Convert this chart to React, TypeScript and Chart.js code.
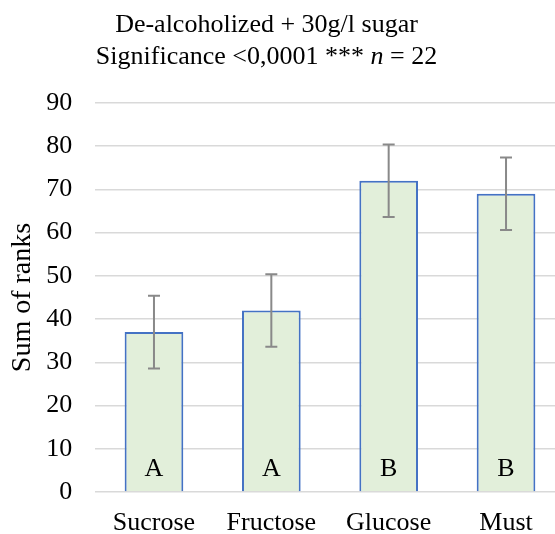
import React, { useEffect, useRef } from "react";
import { Chart, registerables } from "chart.js";

Chart.register(...registerables);

const categories = ["Sucrose", "Fructose", "Glucose", "Must"];
const sumOfRanks = [37, 42, 72, 69];
const errorMargin = [8.4, 8.4, 8.4, 8.4];
const groupLetters = ["A", "A", "B", "B"];
const titleLine1 = "De-alcoholized + 30g/l sugar";
const titleLine2Parts = [
  { text: "Significance <0,0001 *** ", italic: false },
  { text: "n", italic: true },
  { text: " = 22", italic: false },
];
const yAxisTitle = "Sum of ranks";
const yMin = 0;
const yMax = 90;
const yStep = 10;

const FONT_FAMILY = "'Liberation Serif', 'Times New Roman', serif";
const FONT_SIZE = 26;

const extrasPlugin = {
  id: "extras",
  afterDatasetsDraw(chart: any) {
    const ctx = chart.ctx;
    const meta = chart.getDatasetMeta(0);
    const yScale = chart.scales.y;
    ctx.save();
    // error bars
    ctx.strokeStyle = "#898989";
    ctx.lineWidth = 2;
    meta.data.forEach((bar: any, i: number) => {
      const v = sumOfRanks[i];
      const e = errorMargin[i];
      const yTop = yScale.getPixelForValue(v + e);
      const yBot = yScale.getPixelForValue(v - e);
      const x = bar.x;
      const cap = 6;
      ctx.beginPath();
      ctx.moveTo(x, yTop);
      ctx.lineTo(x, yBot);
      ctx.moveTo(x - cap, yTop);
      ctx.lineTo(x + cap, yTop);
      ctx.moveTo(x - cap, yBot);
      ctx.lineTo(x + cap, yBot);
      ctx.stroke();
    });
    // letters
    ctx.fillStyle = "#000000";
    ctx.font = `${FONT_SIZE}px ${FONT_FAMILY}`;
    ctx.textAlign = "center";
    ctx.textBaseline = "alphabetic";
    const base = yScale.getPixelForValue(0);
    meta.data.forEach((bar: any, i: number) => {
      ctx.fillText(groupLetters[i], bar.x, base - 16);
    });
    ctx.restore();
  },
  afterDraw(chart: any) {
    const ctx = chart.ctx;
    ctx.save();
    ctx.fillStyle = "#000000";
    ctx.textBaseline = "alphabetic";
    const cx = 266.5;
    ctx.font = `${FONT_SIZE}px ${FONT_FAMILY}`;
    ctx.textAlign = "center";
    ctx.fillText(titleLine1, cx, 32);
    // second line with italic part
    const widths = titleLine2Parts.map((p) => {
      ctx.font = `${p.italic ? "italic " : ""}${FONT_SIZE}px ${FONT_FAMILY}`;
      return ctx.measureText(p.text).width;
    });
    const total = widths.reduce((a, b) => a + b, 0);
    let x = cx - total / 2;
    ctx.textAlign = "left";
    titleLine2Parts.forEach((p, i) => {
      ctx.font = `${p.italic ? "italic " : ""}${FONT_SIZE}px ${FONT_FAMILY}`;
      ctx.fillText(p.text, x, 64);
      x += widths[i];
    });
    ctx.restore();
  },
};

export default function App() {
  const canvasRef = useRef<HTMLCanvasElement | null>(null);

  useEffect(() => {
    const canvas = canvasRef.current;
    if (!canvas) return;
    const chart = new Chart(canvas, {
      type: "bar",
      data: {
        labels: categories,
        datasets: [
          {
            data: sumOfRanks,
            backgroundColor: "#E2EFDA",
            borderColor: "#4472C4",
            borderWidth: 2,
            barPercentage: 0.5,
            categoryPercentage: 1,
          },
        ],
      },
      options: {
        animation: false,
        responsive: false,
        maintainAspectRatio: false,
        layout: { padding: { top: 103, left: 0, right: 5.3, bottom: 0 } },
        plugins: {
          legend: { display: false },
          tooltip: { enabled: false },
          title: { display: false },
        },
        scales: {
          x: {
            grid: { display: false },
            border: { display: false },
            ticks: {
              color: "#000000",
              font: { family: FONT_FAMILY, size: FONT_SIZE },
              padding: 8,
              maxRotation: 0,
            },
            afterFit(scale: any) {
              scale.height = 42;
            },
          },
          y: {
            min: yMin,
            max: yMax,
            grid: { color: "#D9D9D9", lineWidth: 1.5, drawTicks: false },
            border: { display: false },
            ticks: {
              stepSize: yStep,
              color: "#000000",
              font: { family: FONT_FAMILY, size: FONT_SIZE },
              padding: 23,
            },
            title: {
              display: true,
              text: yAxisTitle,
              color: "#000000",
              font: { family: FONT_FAMILY, size: 28 },
              padding: { top: 6, bottom: 0 },
            },
            afterFit(scale: any) {
              scale.width = 95.3;
            },
          },
        },
      },
      plugins: [extrasPlugin],
    });
    return () => chart.destroy();
  }, []);

  return (
    <div
      style={{
        position: "fixed",
        left: 0,
        top: 0,
        width: 555,
        height: 534,
        overflow: "hidden",
        background: "#ffffff",
      }}
    >
      <canvas ref={canvasRef} width={570} height={534} style={{ width: 570, height: 534, display: "block" }} />
    </div>
  );
}
